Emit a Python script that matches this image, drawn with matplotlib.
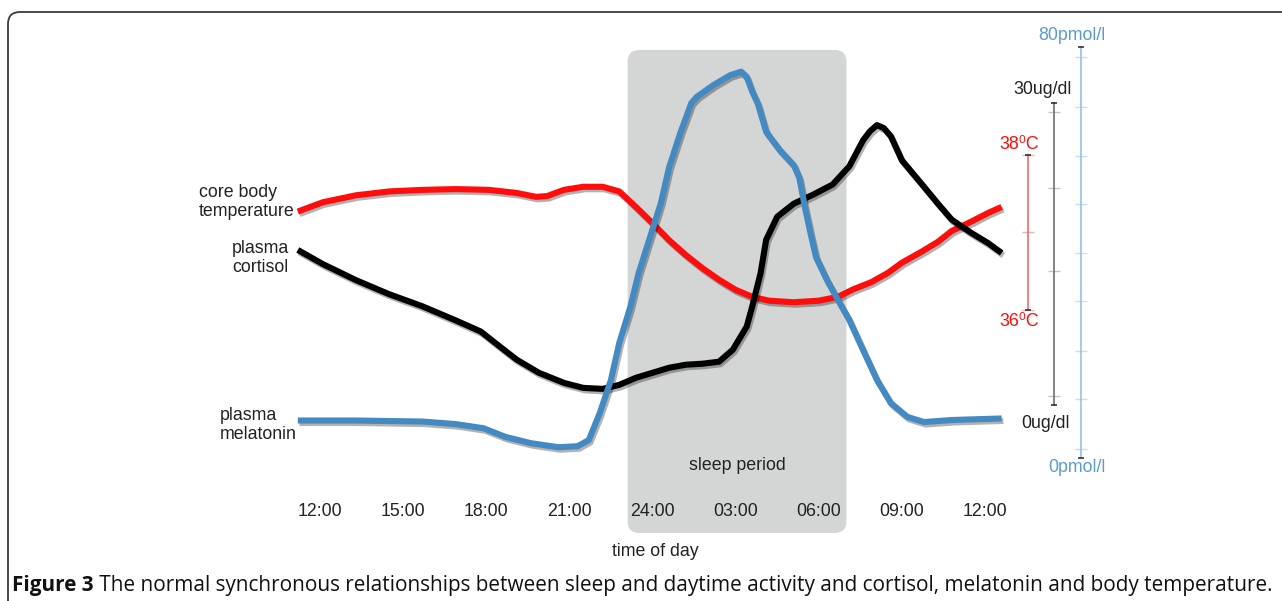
import matplotlib.pyplot as plt
from matplotlib.patches import FancyBboxPatch
import matplotlib.patheffects as pe

plt.rcParams['font.family'] = ['Liberation Sans', 'DejaVu Sans']

# hours counted from midnight of day 1 (12 = noon, 24 = midnight, 36 = noon next day)
temp_hours = [11.2, 12.1, 13.3, 14.5, 15.7, 16.9, 18.1, 19.1, 19.8, 20.2, 20.8, 21.5,
              22.2, 22.8, 23.4, 24.0, 24.6, 25.2, 25.8, 26.4, 27.0, 27.6, 28.2, 29.1,
              30.0, 30.7, 31.2, 31.9, 32.5, 33.0, 33.7, 34.3, 34.8, 35.5, 36.1, 36.6]
temp_c = [37.27, 37.39, 37.48, 37.53, 37.55, 37.56, 37.55, 37.51, 37.46, 37.47, 37.55, 37.59,
          37.59, 37.53, 37.33, 37.12, 36.90, 36.71, 36.54, 36.39, 36.26, 36.17, 36.12, 36.10,
          36.12, 36.17, 36.26, 36.36, 36.48, 36.61, 36.75, 36.88, 37.02, 37.14, 37.25, 37.33]

cort_hours = [11.2, 12.1, 13.3, 14.5, 15.7, 16.9, 17.8, 18.4, 19.1, 19.9, 20.8, 21.5,
              22.2, 22.8, 23.4, 24.0, 24.6, 25.2, 25.8, 26.4, 26.9, 27.4, 27.6, 27.9,
              28.1, 28.5, 29.1, 29.8, 30.5, 31.1, 31.6, 31.85, 32.1, 32.35, 32.6, 33.0,
              33.7, 34.3, 34.8, 35.5, 36.1, 36.6]
cort_ugdl = [15.4, 14.0, 12.4, 11.0, 9.8, 8.4, 7.3, 6.0, 4.5, 3.2, 2.2, 1.7,
             1.6, 2.0, 2.7, 3.2, 3.7, 4.0, 4.1, 4.3, 5.5, 7.8, 9.8, 13.1,
             16.4, 18.7, 20.0, 20.9, 21.9, 23.7, 26.3, 27.2, 27.8, 27.5, 26.7, 24.3,
             22.0, 20.0, 18.4, 17.1, 16.1, 15.1]

mel_hours = [11.2, 13.3, 15.7, 16.9, 17.9, 18.7, 19.6, 20.6, 21.3, 21.7, 22.1, 22.5,
             22.8, 23.2, 23.5, 23.9, 24.3, 24.6, 25.0, 25.4, 25.6, 26.2, 26.8, 27.2,
             27.4, 27.6, 27.8, 28.1, 28.6, 29.1, 29.3, 29.5, 29.7, 29.9, 30.3, 30.7,
             31.1, 31.6, 32.1, 32.6, 33.2, 33.8, 34.8, 36.6]
mel_pmol = [7.3, 7.3, 7.1, 6.6, 5.8, 4.1, 2.9, 2.1, 2.3, 3.5, 8.8, 15.2,
            22.4, 29.4, 36.0, 42.8, 49.6, 56.6, 63.2, 69.1, 70.3, 72.6, 74.5, 75.2,
            74.2, 71.3, 69.0, 63.5, 59.9, 57.0, 54.5, 48.8, 43.8, 39.1, 34.6, 30.7,
            26.9, 21.0, 15.2, 10.7, 8.0, 7.0, 7.4, 7.7]

tick_hours = [12, 15, 18, 21, 24, 27, 30, 33, 36]
tick_labels = ['12:00', '15:00', '18:00', '21:00', '24:00', '03:00', '06:00', '09:00', '12:00']
sleep_start, sleep_end = 23.1, 31.0

temp_range = (36, 38)
cort_range = (0, 30)
mel_range = (0, 80)
temp_ticks = [36, 37, 38]
cort_ticks = [0.9, 13.3, 21.6, 29.1]
mel_ticks = [1.8, 11.5, 20.8, 30.6, 39.9, 49.4, 58.8, 68.3, 78.0]

RED = '#ff0d0d'
BLUE = '#4389c2'
W, H = 1282, 601

fig = plt.figure(figsize=(W / 100, H / 100), dpi=100)
ax = fig.add_axes([0, 0, 1, 1])
ax_c = fig.add_axes([0, 0, 1, 1], sharex=ax)
ax_m = fig.add_axes([0, 0, 1, 1], sharex=ax)

ax.set_xlim(0.452, 46.717)
ax.set_ylim(32.245, 40.0)
ax_c.set_ylim(-19.47, 40.23)
ax_m.set_ylim(-27.83, 89.15)

for a in (ax, ax_c, ax_m):
    for s in a.spines.values():
        s.set_visible(False)
    a.set_yticks([])
    a.set_facecolor('none')
ax_c.xaxis.set_visible(False)
ax_m.xaxis.set_visible(False)

# time of day axis
ax.spines['bottom'].set_position(('axes', 1 - 503 / H))
ax.set_xticks(tick_hours, tick_labels)
ax.tick_params(axis='x', length=0, pad=0, labelsize=12.8, colors='#222222')
ax.set_xlabel('time of day', fontsize=12.8, color='#222222')
ax.xaxis.set_label_coords(655 / W, 1 - 543 / H)

# sleep period box
box = FancyBboxPatch((sleep_start, 1 - 533 / H), sleep_end - sleep_start, 483 / H,
                     boxstyle='round,pad=0,rounding_size=0.43', mutation_aspect=0.0461,
                     transform=ax.get_xaxis_transform(), fc='#d4d5d5', ec='none', zorder=0)
ax.add_patch(box)
ax.text((sleep_start + sleep_end) / 2, 1 - 465 / H, 'sleep period', transform=ax.get_xaxis_transform(),
        ha='center', va='center', fontsize=12.8, color='#222222')

shadow = [pe.SimpleLineShadow(offset=(1.2, -1.8), alpha=0.3), pe.Normal()]
style = dict(lw=4.4, solid_capstyle='butt', solid_joinstyle='round', path_effects=shadow, zorder=3)
ax.plot(temp_hours, temp_c, color=RED, **style)
ax_c.plot(cort_hours, cort_ugdl, color='black', **style)
ax_m.plot(mel_hours, mel_pmol, color=BLUE, **style)

# unit scales on the right
scales = [
    (ax, 37.55, temp_range, temp_ticks, '#f26b6b', '#f7b0b0', RED, '38\u2070C', '36\u2070C', (-9, 10), (-9, -12)),
    (ax_c, 38.49, cort_range, cort_ticks, '#6e6e6e', '#c4c4c4', '#222222', '30ug/dl', '0ug/dl', (-11, 13), (-9, -19)),
    (ax_m, 39.46, mel_range, mel_ticks, '#96c0e2', '#c9ddee', '#5b9bd0', '80pmol/l', '0pmol/l', (-9, 12), (-4, -9)),
]
for a, xb, (lo, hi), ticks, col, tcol, tc, top_lab, bot_lab, off_top, off_bot in scales:
    a.plot([xb, xb], [lo, hi], color=col, lw=1.2, zorder=2)
    a.hlines(ticks, xb - 0.22, xb + 0.22, color=tcol, lw=1, zorder=1)
    a.plot([xb, xb], [lo, hi], ls='none', marker='_', ms=4, mew=1.2, color='#333333', zorder=2)
    a.annotate(top_lab, (xb, hi), xytext=off_top, textcoords='offset pixels',
               ha='center', va='center', fontsize=12.8, color=tc)
    a.annotate(bot_lab, (xb, lo), xytext=off_bot, textcoords='offset pixels',
               ha='center', va='center', fontsize=12.8, color=tc)

# series names
fig.text(199 / W, 1 - 202 / H, 'core body\ntemperature', ha='left', va='center', fontsize=12.8,
         color='#222222', linespacing=1.1)
fig.text(232 / W, 1 - 258 / H, 'plasma\ncortisol', ha='left', va='center', fontsize=12.8,
         color='#222222', linespacing=1.1)
fig.text(220 / W, 1 - 425 / H, 'plasma\nmelatonin', ha='left', va='center', fontsize=12.8,
         color='#222222', linespacing=1.1)

# caption
cap_size = 14.93
t1 = fig.text(12 / W, 1 - 585 / H, 'Figure 3', fontsize=cap_size, fontweight='bold', family='Open Sans',
              ha='left', va='center', color='#111111')
ax.annotate(' The normal synchronous relationships between sleep and daytime activity and cortisol, '
            'melatonin and body temperature.', xy=(1, 0), xycoords=t1, ha='left', va='bottom',
            fontsize=cap_size, family='Open Sans', color='#111111', annotation_clip=False)

# rounded frame
fig.patches.append(FancyBboxPatch((8 / W, -0.05), 1.1, 1 - 12 / H + 0.05,
                                  boxstyle='round,pad=0,rounding_size=0.0094', mutation_aspect=W / H,
                                  transform=fig.transFigure, fill=False, ec='#3c3c3c', lw=1.3))

fig.savefig('out.png', dpi=100)
